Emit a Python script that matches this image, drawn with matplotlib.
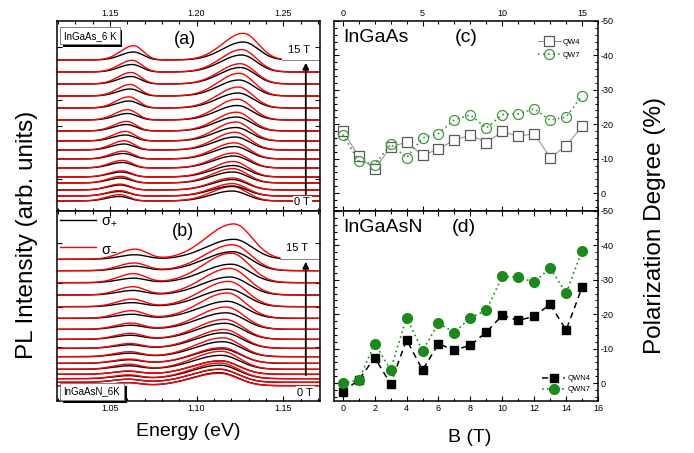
import numpy as np
import matplotlib
matplotlib.use('Agg')
import matplotlib.pyplot as plt
from matplotlib import patheffects
from matplotlib.ticker import MultipleLocator

plt.rcParams['font.family'] = ['Liberation Sans', 'DejaVu Sans']
plt.rcParams['axes.unicode_minus'] = False

# magnetic field steps (T)
fields = list(range(16))

# polarization degree (%) vs B
qw4 = [-18.1, -10.7, -6.9, -13.4, -14.8, -11.0, -12.8, -15.4, -16.9, -14.7, -17.9, -16.5, -17.3, -10.3, -13.7, -19.4]
qw7 = [-17.0, -9.3, -8.3, -14.2, -10.3, -16.0, -17.3, -21.3, -22.7, -18.9, -22.8, -23.0, -24.5, -21.2, -22.1, -28.3]
qwn4 = [2.5, -0.9, -7.4, 0.2, -12.6, -3.8, -11.4, -9.6, -11.0, -14.8, -19.7, -18.2, -19.4, -22.9, -15.4, -27.8]
qwn7 = [0.0, -0.9, -11.5, -3.9, -19.0, -9.4, -17.4, -14.7, -19.0, -21.1, -31.0, -30.8, -29.3, -33.5, -26.1, -38.4]

# InGaAs spectra: vertical offsets, peak energies (eV) and sigma+ peak heights
offset_a = [10, 15, 21, 28, 34, 43, 52, 61, 70, 80, 91, 103, 115, 127, 139, 151]
peak1_a = [1.1555, 1.1557, 1.1560, 1.1564, 1.1568, 1.1573, 1.1578, 1.1583,
           1.1590, 1.1596, 1.1603, 1.1610, 1.1617, 1.1622, 1.1628, 1.1637]
peak2_a = [1.2205, 1.2206, 1.2207, 1.2209, 1.2212, 1.2215, 1.2218, 1.2222,
           1.2226, 1.2230, 1.2235, 1.2240, 1.2245, 1.2252, 1.2260, 1.2270]
amp1_a = [4.5, 4.5, 5, 5, 5, 5.5, 5.5, 6, 6, 6.5, 6.5, 7, 7, 7.5, 7.5, 8]
amp2_a = [10, 10, 10.5, 11, 11.5, 12, 12.5, 13, 13.5, 14, 14.5, 15, 16, 16.5, 17, 18]

# InGaAsN spectra
offset_b = [15.3, 18.7, 22.3, 26.7, 31.7, 37.7, 44.3, 52.7, 61.7, 71.7, 82.7, 94.3, 106, 118.3, 130.3, 141.7]
peak1_b = [1.0605, 1.0605, 1.0606, 1.0607, 1.0609, 1.0611, 1.0613, 1.0616,
           1.0619, 1.0622, 1.0626, 1.0629, 1.0633, 1.0637, 1.0641, 1.0645]
peak2_b = [1.1132, 1.1133, 1.1135, 1.1138, 1.1142, 1.1146, 1.1151, 1.1157,
           1.1163, 1.1170, 1.1177, 1.1184, 1.1192, 1.1199, 1.1207, 1.1215]
amp1_b = [3, 3, 3, 3, 3.5, 3.5, 3.5, 3.5, 4, 4, 4, 4, 4.5, 4.5, 4.5, 4.5]
amp2_b = [13, 13, 13.5, 13.5, 14, 14.5, 15, 15.5, 16, 16.5, 17, 17.5, 18, 18.5, 19, 20]


def peak(e, e0, sl, sr):
    s = np.where(e < e0, sl, sr)
    return np.exp(-0.5 * ((e - e0) / s) ** 2)


def ratio(p):
    # sigma-/sigma+ intensity ratio from polarization degree
    return (1 - p / 100.0) / (1 + p / 100.0)


def draw_spectra(ax, e, offs, e1, e2, a1, a2, p1, p2, w1, w2, e_cut):
    for i in range(len(fields)):
        g1 = peak(e, e1[i], w1[0], w1[1])
        g2 = peak(e, e2[i], w2[0], w2[1])
        black = offs[i] + a1[i] * g1 + a2[i] * g2
        red = offs[i] + a1[i] * ratio(p1[i]) * g1 + a2[i] * ratio(p2[i]) * g2
        m = e <= (e_cut if i == len(fields) - 1 else e[-1])
        ax.plot(e[m], black[m], color='k', lw=1.0)
        ax.plot(e[m], red[m], color='r', lw=1.0)
    ax.plot([e_cut, e[-1]], [offs[-1], offs[-1]], color='0.3', lw=0.5)


fig = plt.figure(figsize=(6.94, 4.53), dpi=100)
ax_a = fig.add_axes([57 / 694, 1 - 211 / 453, 263 / 694, 190 / 453])
ax_b = fig.add_axes([57 / 694, 1 - 401 / 453, 263 / 694, 190 / 453])
ax_c = fig.add_axes([334 / 694, 1 - 211 / 453, 264 / 694, 190 / 453])
ax_d = fig.add_axes([334 / 694, 1 - 401 / 453, 264 / 694, 190 / 453])

e_a = np.linspace(1.1195, 1.2712, 700)
e_b = np.linspace(1.0195, 1.1712, 700)
draw_spectra(ax_a, e_a, offset_a, peak1_a, peak2_a, amp1_a, amp2_a, qw7, qw4,
             (0.0075, 0.0055), (0.012, 0.0085), 1.249)
draw_spectra(ax_b, e_b, offset_b, peak1_b, peak2_b, amp1_b, amp2_b, qwn7, qwn4,
             (0.009, 0.007), (0.016, 0.0105), 1.148)

for ax, e in [(ax_a, e_a), (ax_b, e_b)]:
    ax.set_xlim(e[0], e[-1])
    ax.set_ylim(0, 190)
    ax.xaxis.set_major_locator(MultipleLocator(0.05))
    ax.xaxis.set_minor_locator(MultipleLocator(0.01))
    ax.xaxis.set_major_formatter(plt.FormatStrFormatter('%.2f'))
    ax.tick_params(which='both', direction='in', top=True, bottom=True, left=True, right=True,
                   labelleft=False, labelsize=6.5, width=0.8, pad=2)
    ax.tick_params(which='major', length=3.5)
    ax.tick_params(which='minor', length=2)
    for s in ax.spines.values():
        s.set_linewidth(1.1)
ax_a.set_yticks([32, 85, 111, 164])
ax_b.set_yticks([54, 94, 118, 158])
ax_a.tick_params(labeltop=True, labelbottom=False)
ax_b.tick_params(labeltop=False, labelbottom=True)

# arrows and field labels
ax_a.annotate('', xy=(1.263, 151), xytext=(1.263, 14),
              arrowprops=dict(arrowstyle='-|>', lw=1.3, color='k', mutation_scale=9))
ax_b.annotate('', xy=(1.163, 142), xytext=(1.163, 23),
              arrowprops=dict(arrowstyle='-|>', lw=1.3, color='k', mutation_scale=9))
ax_a.text(1.259, 161, '15 T', fontsize=8, ha='center', va='center')
ax_a.text(1.261, 8.5, '0 T', fontsize=8, ha='center', va='center',
          bbox=dict(boxstyle='square,pad=0.15', fc='white', ec='none'))
ax_b.text(1.158, 153, '15 T', fontsize=8, ha='center', va='center')
ax_b.text(1.1627, 8.5, '0 T', fontsize=8, ha='center', va='center',
          bbox=dict(boxstyle='square,pad=0.15', fc='white', ec='none'))
ax_a.text(1.1931, 171, '(a)', fontsize=13, ha='center', va='center')
ax_b.text(1.092, 169, '(b)', fontsize=13, ha='center', va='center')

for ax, label, y in [(ax_a, 'InGaAs_6 K', 0.922), (ax_b, 'InGaAsN_6K', 0.05)]:
    t = ax.text(0.025, y, label, transform=ax.transAxes, fontsize=7, ha='left', va='center',
                bbox=dict(boxstyle='square,pad=0.35', fc='white', ec='0.4', lw=0.5))
    t.get_bbox_patch().set_path_effects([patheffects.withSimplePatchShadow(
        offset=(2, -2), shadow_rgbFace='k', alpha=1.0), patheffects.Normal()])

# sigma legend
h1, = ax_b.plot([], [], color='k', lw=1.0)
h2, = ax_b.plot([], [], color='r', lw=1.0)
ax_b.legend([h1, h2], [r'$\mathregular{\sigma_{+}}$', r'$\mathregular{\sigma_{-}}$'],
            loc='upper left', frameon=False,
            fontsize=10.5, handlelength=2.5, handletextpad=0.3, labelspacing=0.85,
            borderaxespad=0.1, borderpad=0.1)

# polarization panels
ax_c.plot(fields, qw4, color='0.55', lw=0.7, marker='s', ms=6.5, mfc='white',
          mec='0.35', mew=0.9, label='QW4')
ax_c.plot(fields, qw7, color='#3a9a3a', lw=1.2, ls=(0, (1, 2)), marker='o', ms=7.2,
          mfc='none', mec='#3a9a3a', mew=0.9, label='QW7')
ax_d.plot(fields, qwn4, color='k', lw=1.1, ls=(0, (4, 3)), marker='s', ms=6.2,
          mfc='k', mec='k', label='QWN4')
ax_d.plot(fields, qwn7, color='#1a8a1a', lw=1.2, ls=(0, (1, 2)), marker='o', ms=7,
          mfc='#1a8a1a', mec='#1a8a1a', label='QWN7')

for ax in (ax_c, ax_d):
    ax.set_xlim(-0.55, 16)
    ax.set_ylim(5.2, -50)
    ax.yaxis.set_major_locator(MultipleLocator(10))
    ax.yaxis.set_minor_locator(MultipleLocator(2))
    ax.xaxis.set_minor_locator(MultipleLocator(1))
    ax.tick_params(which='both', direction='in', top=True, bottom=True, left=True, right=True,
                   labelleft=False, labelright=True, labelsize=6.5, width=0.8, pad=2)
    ax.tick_params(which='major', length=3.5)
    ax.tick_params(which='minor', length=2)
    for s in ax.spines.values():
        s.set_linewidth(1.1)
ax_c.xaxis.set_major_locator(MultipleLocator(5))
ax_d.xaxis.set_major_locator(MultipleLocator(2))
ax_c.tick_params(labeltop=True, labelbottom=False)
ax_d.tick_params(labeltop=False, labelbottom=True)

ax_c.text(0, -45.2, 'InGaAs', fontsize=14, ha='left', va='center')
ax_c.text(7.75, -45.2, '(c)', fontsize=14, ha='center', va='center')
ax_d.text(0, -45.2, 'InGaAsN', fontsize=14, ha='left', va='center')
ax_d.text(7.6, -45.2, '(d)', fontsize=14, ha='center', va='center')

ax_c.legend(loc='upper right', frameon=False, fontsize=5.5, handlelength=3.0,
            handletextpad=0.3, labelspacing=0.75, borderaxespad=1.9)
ax_d.legend(loc='lower right', frameon=False, fontsize=5.5, handlelength=3.0,
            handletextpad=0.3, labelspacing=0.5, borderaxespad=0.6)

fig.text(27 / 694, 1 - 235 / 453, 'PL Intensity (arb. units)', rotation=90,
         fontsize=17.5, ha='center', va='center')
fig.text(655 / 694, 1 - 225 / 453, 'Polarization Degree (%)', rotation=90,
         fontsize=17.5, ha='center', va='center')
fig.text(188 / 694, 1 - 431 / 453, 'Energy (eV)', fontsize=14, ha='center', va='center')
fig.text(470 / 694, 1 - 437 / 453, 'B (T)', fontsize=14, ha='center', va='center')

fig.savefig('out.png', dpi=100)
